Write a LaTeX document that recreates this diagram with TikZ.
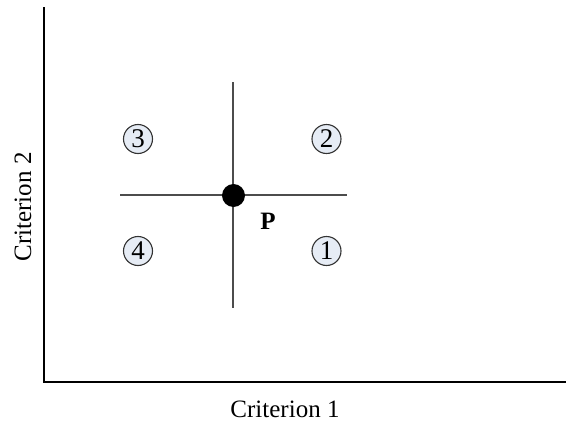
\documentclass[tikz,border=0pt]{standalone}
\usepackage{fontspec}
\setmainfont{Liberation Serif}
\usepackage{xcolor}
\usetikzlibrary{positioning}
\definecolor{quadfill}{HTML}{E6ECF5}

\begin{document}
\begin{tikzpicture}[
    x=1pt, y=-1pt,
    axis_line/.style={draw=black, line width=1.2pt},
    cross_line/.style={draw=black!70, line width=1.2pt},
    quad/.style={circle, draw=black!80, fill=quadfill, line width=1.1pt, inner sep=0pt, minimum size=29pt, font=\fontsize{27}{30}\selectfont},
    pt_dot/.style={circle, fill=black, inner sep=0pt, minimum size=23pt},
    axis_label/.style={font=\fontsize{25}{28}\selectfont}
]
    \useasboundingbox (0,0) rectangle (566,423);

    % Axes
    \coordinate (origin) at (44,382);
    \coordinate (ytop) at (44,7);
    \coordinate (xend) at (566,382);
    \draw[axis_line] (ytop) -- (origin) -- (xend);
    \node[axis_label] (xlabel) at (285,409) {Criterion 1};
    \node[axis_label, rotate=90] (ylabel) at (23,207) {Criterion 2};

    % Point P and its cross
    \coordinate (ctop) at (233,82);
    \coordinate (cbot) at (233,308);
    \coordinate (cleft) at (120,195);
    \coordinate (cright) at (347,195);
    \draw[cross_line] (ctop) -- (cbot);
    \draw[cross_line] (cleft) -- (cright);
    \node[pt_dot] (p) at (233.5,195.5) {};
    \node[axis_label, font=\fontsize{25}{28}\selectfont\bfseries] (plabel) at (268,221) {P};

    % Quadrants
    \node[quad] (q1) at (326.5,251) {1};
    \node[quad] (q2) at (326.5,139) {2};
    \node[quad] (q3) at (138,139) {3};
    \node[quad] (q4) at (138,251) {4};
\end{tikzpicture}
\end{document}
